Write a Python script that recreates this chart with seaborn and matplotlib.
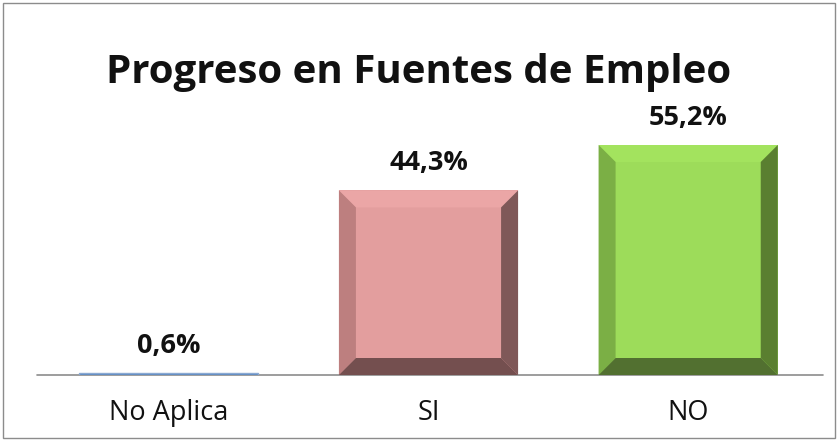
import matplotlib
matplotlib.use("Agg")
import matplotlib.pyplot as plt
import seaborn as sns
import pandas as pd
from matplotlib.patches import Polygon, Rectangle

categories = ["No Aplica", "SI", "NO"]
values = [0.6, 44.3, 55.2]
labels = ["0,6%", "44,3%", "55,2%"]
title = "Progreso en Fuentes de Empleo"

face = ["#4F81BD", "#E39E9E", "#9DDC5A"]
bevel_top = ["#7FA3D0", "#EBA6A6", "#A3E35E"]
bevel_left = ["#4F81BD", "#BD7F7F", "#7BAF45"]
bevel_right = ["#3C6391", "#7F5858", "#5A7F30"]
bevel_bottom = ["#3C6391", "#744F4F", "#527030"]

sns.set_style("white")
plt.rcParams["font.family"] = ["Open Sans", "DejaVu Sans"]

W, H = 838, 441
fig = plt.figure(figsize=(W / 100, H / 100), dpi=100)
fig.patch.set_facecolor("white")
fig.add_artist(Rectangle((3 / W, 3 / H), 832 / W, 435 / H, transform=fig.transFigure,
                         fill=False, edgecolor="#8C8C8C", linewidth=1))

ax_l, ax_r = 39, 818
ax_base, ax_top = 375, 125
ax = fig.add_axes([ax_l / W, 1 - ax_base / H, (ax_r - ax_l) / W, (ax_base - ax_top) / H])

df = pd.DataFrame({"cat": categories, "val": values})
sns.barplot(data=df, x="cat", y="val", hue="cat", palette=face, legend=False,
            width=0.69, ax=ax, saturation=1, edgecolor="none")
ax.set_ylim(0, 60)
ax.set_xlim(-0.5, 2.5)
for s in ax.spines.values():
    s.set_visible(False)
ax.set_yticks([])
ax.set_xlabel("")
ax.set_ylabel("")
ax.tick_params(axis="x", length=0, pad=17, labelsize=19.5, labelcolor="#111111")

# bevel sizes in data units
px_x = (ax_r - ax_l) / 3.0
px_y = (ax_base - ax_top) / 60.0
b = 17
bx = b / px_x
by = b / px_y

for i, p in enumerate(ax.patches):
    x0 = p.get_x()
    w = p.get_width()
    h = p.get_height()
    x1 = x0 + w
    if h * px_y > 3 * b:
        polys = [
            ([(x0, h), (x1, h), (x1 - bx, h - by), (x0 + bx, h - by)], bevel_top[i]),
            ([(x0, 0), (x0, h), (x0 + bx, h - by), (x0 + bx, by)], bevel_left[i]),
            ([(x1, 0), (x1, h), (x1 - bx, h - by), (x1 - bx, by)], bevel_right[i]),
            ([(x0, 0), (x1, 0), (x1 - bx, by), (x0 + bx, by)], bevel_bottom[i]),
        ]
        for pts, c in polys:
            ax.add_patch(Polygon(pts, closed=True, facecolor=c, edgecolor="none", zorder=3))
    else:
        p.set_edgecolor("#8AA9D2")
        p.set_linewidth(1.0)
        p.set_zorder(4)
    ax.annotate(labels[i], (x0 + w / 2, h), xytext=(0, 27 * 0.72), textcoords="offset points",
                ha="center", va="center", fontsize=19.5, fontweight="bold", color="#111111")

ax.axhline(0, color="#8C8C8C", linewidth=1.2, xmin=-0.002, xmax=1.006, clip_on=False, zorder=2)

fig.text(0.5, 1 - 72 / H, title, ha="center", va="center", fontsize=29,
         fontweight="bold", color="#111111")

fig.savefig("out.png", dpi=100, facecolor="white")
